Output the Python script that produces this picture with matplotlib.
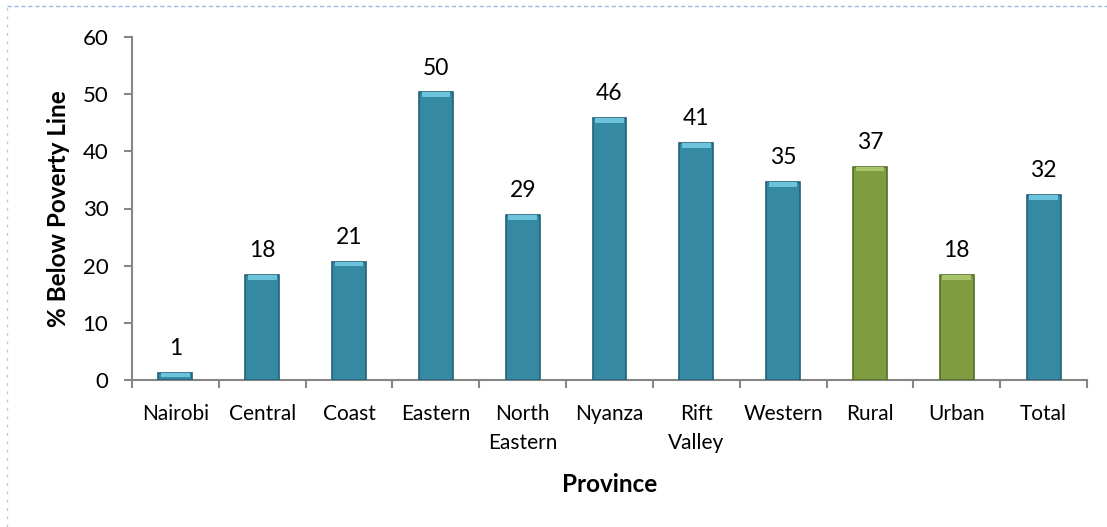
import matplotlib
matplotlib.use("Agg")
import matplotlib.pyplot as plt
from matplotlib.lines import Line2D
import numpy as np

# data
provinces = ['Nairobi', 'Central', 'Coast', 'Eastern', 'North\nEastern', 'Nyanza',
             'Rift\nValley', 'Western', 'Rural', 'Urban', 'Total']
poverty = [1.2, 18.3, 20.7, 50.3, 28.8, 45.8, 41.4, 34.6, 37.3, 18.3, 32.3]
group = ['prov', 'prov', 'prov', 'prov', 'prov', 'prov', 'prov', 'prov', 'area', 'area', 'prov']

colors = {'prov': '#3589A3', 'area': '#7F9C40'}
edges = {'prov': '#22627A', 'area': '#566E27'}
caps = {'prov': '#6CC3DC', 'area': '#A8C46A'}

plt.rcParams['font.family'] = ['Lato', 'DejaVu Sans']

fig = plt.figure(figsize=(11.07, 5.27), dpi=100)
ax = fig.add_axes([132 / 1107, 1 - 380 / 527, (1087 - 132) / 1107, (380 - 37) / 527])

x = np.arange(len(provinces))
fc = [colors[g] for g in group]
ec = [edges[g] for g in group]
ax.bar(x, poverty, width=0.39, color=fc, edgecolor=ec, linewidth=1.2, zorder=3)
# lighter bevel on top of each bar
cap_h = [min(0.8, v * 0.5) for v in poverty]
ax.bar(x, cap_h, bottom=[v - c for v, c in zip(poverty, cap_h)], width=0.33,
       color=[caps[g] for g in group], linewidth=0, zorder=4)

for xi, v in zip(x, poverty):
    ax.annotate(f'{round(v):d}', (xi, v), xytext=(0, 10), textcoords='offset points',
                ha='center', va='bottom', fontsize=16.5)

ax.set_xlim(-0.5, len(provinces) - 0.5)
ax.set_ylim(0, 60)
ax.set_yticks(range(0, 61, 10))
ax.set_xticks(x)
ax.set_xticklabels(provinces, fontsize=15, linespacing=1.6)
ax.set_xticks(np.arange(-0.5, len(provinces)), minor=True)
ax.tick_params(axis='x', which='major', length=0, pad=17)
ax.tick_params(axis='x', which='minor', length=6, color='#868686', width=1.5, direction='out')
ax.tick_params(axis='y', length=6, color='#868686', width=1.5, labelsize=16, pad=11)

for s in ['top', 'right']:
    ax.spines[s].set_visible(False)
for s in ['left', 'bottom']:
    ax.spines[s].set_color('#868686')
    ax.spines[s].set_linewidth(1.5)

ax.set_ylabel('% Below Poverty Line', fontsize=17.5, fontweight='bold', labelpad=9)
ax.set_xlabel('Province', fontsize=17.5, fontweight='bold', labelpad=14)

# dashed page border seen at top and left
fig.add_artist(Line2D([7 / 1107, 1], [1 - 6 / 527, 1 - 6 / 527], transform=fig.transFigure,
                      color='#9DB9E0', linestyle=(0, (3, 2)), linewidth=1))
fig.add_artist(Line2D([7 / 1107, 7 / 1107], [0, 1 - 6 / 527], transform=fig.transFigure,
                      color='#B8C8E0', linestyle=(0, (2, 4)), linewidth=1))

fig.savefig('out.png', dpi=100)
